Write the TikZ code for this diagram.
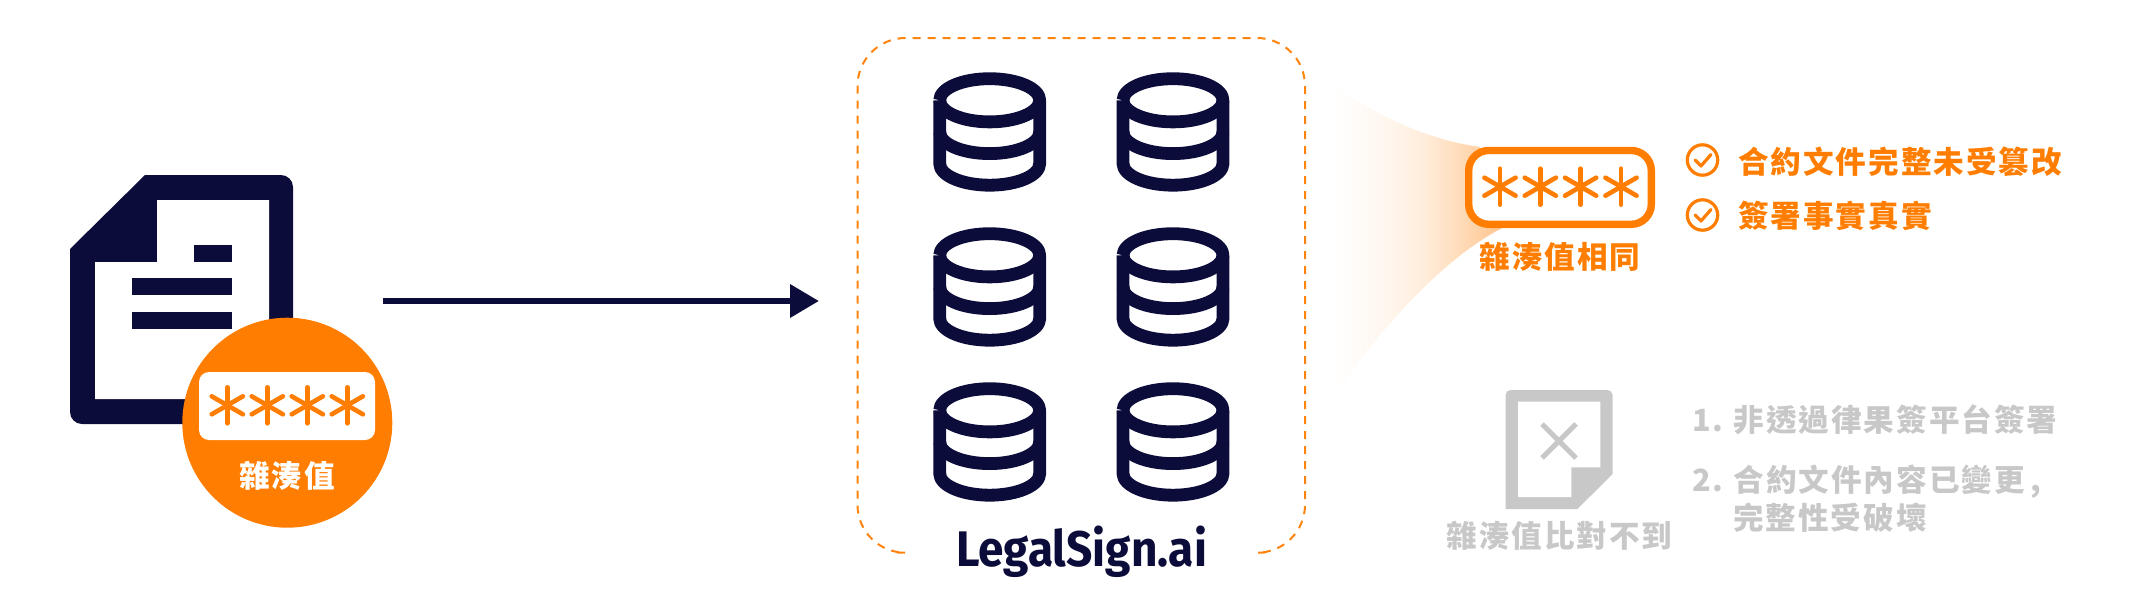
\documentclass[tikz,border=0pt]{standalone}
\usepackage{fontspec}
\usetikzlibrary{arrows.meta}
\setmainfont{Noto Sans CJK TC}
\newfontfamily\logofont{Fira Sans}
\definecolor{navy}{HTML}{0C0C3A}
\definecolor{hashorange}{HTML}{FF7D00}
\definecolor{mutedgrey}{HTML}{C8C8C8}
\pgfdeclarehorizontalshading{hashfade}{100bp}{
  color(0bp)=(white);
  color(25bp)=(white);
  color(39.5bp)=(hashorange!6!white);
  color(51bp)=(hashorange!13!white);
  color(63bp)=(hashorange!28!white);
  color(75bp)=(hashorange!45!white);
  color(100bp)=(hashorange!45!white)}
\tikzset{
  x=1pt,y=-1pt,
  cjk/.style={inner sep=0pt,font=\fontsize{30.6}{36}\selectfont\addfontfeature{LetterSpace=6.5}\bfseries},
  orangetext/.style={cjk,text=hashorange},
  greytext/.style={cjk,text=mutedgrey},
  starline/.style={line width=4.6pt,line cap=round},
  dbline/.style={draw=navy,line width=12.8pt,line join=round},
  pics/star/.style={code={
    \foreach \a in {90,150,210}{\draw[starline,#1] (\a:18pt) -- (\a+180:18pt);}
  }},
  pics/db/.style={code={
    \draw[dbline] (-50,0) arc[start angle=180,end angle=-180,x radius=50,y radius=21.6];
    \draw[dbline] (-50,0) -- (-50,63.3) arc[start angle=180,end angle=0,x radius=50,y radius=21.6] -- (50,0);
    \draw[dbline] (-50,31.7) arc[start angle=180,end angle=0,x radius=50,y radius=21.6];
  }},
  pics/checkmark/.style={code={
    \draw[hashorange,line width=3.2pt] (0,0) circle[radius=15.2];
    \draw[hashorange,line width=3.2pt,line cap=round,line join=round] (-7.5,0) -- (-1.5,6) -- (8.5,-5.5);
  }},
}
\begin{document}
\begin{tikzpicture}
\useasboundingbox (0,0) rectangle (2134,613);
% source document
\fill[navy] (145,175) [rounded corners=12pt] -- (293,175) -- (293,424) -- (70,424) [sharp corners] -- (70,249) -- cycle;
\fill[white] (157,200) -- (269,200) -- (269,399) -- (95,399) -- (95,262) -- (157,262) -- cycle;
\fill[navy] (194,245) rectangle (232,262);
\fill[navy] (132,278) rectangle (232,295);
\fill[navy] (132,312) rectangle (232,329);
% hash badge
\node[circle,fill=hashorange,minimum size=210pt,inner sep=0pt] (badge) at (287.3,422.7) {};
\fill[white,rounded corners=10pt] (199,372) rectangle (375,440);
\foreach \x in {227.3,267.3,307.3,347.3}{\pic at (\x,405.3) {star={hashorange}};}
\node[cjk,text=white] (badgelabel) at (287.3,476) {雜湊值};
% arrow
\coordinate (arrowstart) at (383,301);
\coordinate (arrowend) at (819,301);
\draw[navy,line width=6.8pt,-{Triangle[length=29pt,width=32pt]}] (arrowstart) -- (arrowend);
% dashed frame
\draw[hashorange!95!white,line width=2pt,dash pattern=on 8pt off 7pt,rounded corners=48pt]
  (897,552.7) -- (857.5,552.7) -- (857.5,38) -- (1305,38) -- (1305,552.7) -- (1265,552.7);
% databases
\foreach \x in {989.7,1173}{\foreach \y in {100.3,255.3,410.3}{\pic at (\x,\y) {db};}}
\node[inner sep=0pt,anchor=base,text=navy,font=\logofont\fontsize{50}{56}\selectfont\bfseries] (logo) at (1081.5,566) {\scalebox{.92}[1]{LegalSign.ai}};
% gradient
\shade[shading=hashfade]
  (1333,85) .. controls (1380,118) and (1430,140) .. (1480,147) -- (1502,228) .. controls (1450,255) and (1390,315) .. (1333,397) -- cycle;
% result box
\draw[hashorange,fill=white,line width=7.4pt,rounded corners=20pt] (1468.7,150.5) rectangle (1651.3,224.3);
\foreach \x in {1500,1540.3,1580.6,1621}{\pic at (\x,186.7) {star={hashorange}};}
\node[orangetext] (same) at (1560,256.7) {雜湊值相同};
\pic at (1702.5,160) {checkmark};
\pic at (1702.5,215) {checkmark};
\node[orangetext,anchor=west] (okone) at (1738,161.7) {合約文件完整未受篡改};
\node[orangetext,anchor=west] (oktwo) at (1738,216) {簽署事實真實};
% failed document
\fill[mutedgrey] (1505.6,509) [rounded corners=5pt] -- (1505.6,390) -- (1612.6,390) [sharp corners] -- (1612.6,474) -- (1577.4,509) -- cycle;
\fill[white] (1518,401.7) -- (1600.4,401.7) -- (1600.4,467.3) -- (1571.3,467.3) -- (1571.3,497) -- (1518,497) -- cycle;
\draw[mutedgrey,line width=5pt] (1542,424) -- (1576,458) (1576,424) -- (1542,458);
\node[greytext] (nomatch) at (1559.5,536) {雜湊值比對不到};
\node[greytext,anchor=west] (failone) at (1692,420) {1.\hspace{10pt}非透過律果簽平台簽署};
\node[greytext,anchor=west] (failtwo) at (1692,481.7) {2.\hspace{10pt}合約文件內容已變更\hspace{6pt},};
\node[greytext,anchor=west] (failthree) at (1733,517.7) {完整性受破壞};
\end{tikzpicture}
\end{document}
